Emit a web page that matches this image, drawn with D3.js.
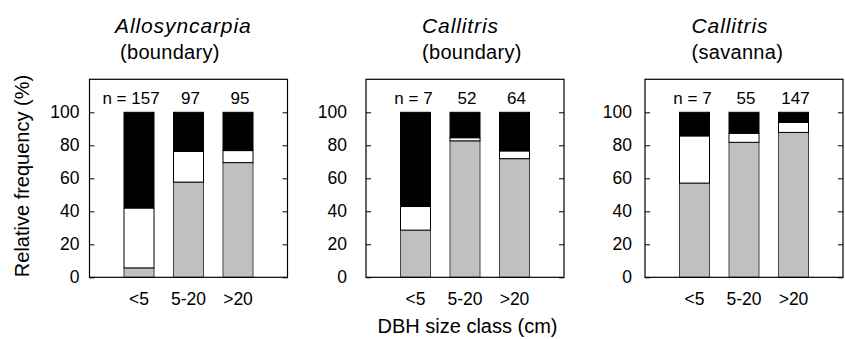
<!DOCTYPE html>
<html>
<head>
    <script src="https://d3js.org/d3.v7.min.js"></script>
    <title>DBH size class frequency</title>
    <style>
        body { margin: 0; background: #fff; }
        text { font-family: "Liberation Sans", Arial, Helvetica, sans-serif; fill: #000; }
    </style>
</head>
<body>
    <svg id="plot" height="339" width="845"></svg>
    <script>
        // data
        const categories = ["<5", "5-20", ">20"];
        const species = ["Allosyncarpia", "Callitris", "Callitris"];
        const sites = ["(boundary)", "(boundary)", "(savanna)"];
        const nCounts = [[157, 97, 95], [7, 52, 64], [7, 55, 147]];
        // percent per segment, bottom to top
        const grayPct  = [[5.7, 57.7, 69.5], [28.6, 82.7, 71.9], [57.1, 81.8, 87.8]];
        const whitePct = [[36.3, 18.6, 7.3], [14.3, 1.9, 4.7], [28.6, 5.5, 6.1]];
        const blackPct = [[58.0, 23.7, 23.2], [57.1, 15.4, 23.4], [14.3, 12.7, 6.1]];
        const yTicks = [0, 20, 40, 60, 80, 100];

        const svg = d3.select('svg#plot');
        const panelLeft = [89.5, 366, 645];
        const panelTop = 79.3;
        const panelW = 198;
        const panelH = 198;
        const labelGap = [10, 19, 13];
        const titleOffset = [[25.5, 30.5], [56, 56], [46.5, 46.5]];

        const x = d3.scalePoint().domain(categories).range([0, panelW]).padding(1);
        const y = d3.scaleLinear().domain([0, 120]).range([panelH, 0]);
        const barW = 30;
        const fills = {gray: "#c0c0c0", white: "#ffffff", black: "#000000"};

        panelLeft.forEach((px, p) => {
            const g = svg.append('g').attr('transform', `translate(${px},${panelTop})`);

            // title
            g.append('text')
                .attr('x', titleOffset[p][0]).attr('y', 32.5 - panelTop)
                .style('font-size', '21px').style('font-style', 'italic')
                .style('letter-spacing', '0.9px')
                .text(species[p]);
            g.append('text')
                .attr('x', titleOffset[p][1]).attr('y', 59 - panelTop)
                .style('font-size', '20px')
                .style('letter-spacing', '0.3px')
                .text(sites[p]);

            // stacked bars
            const rows = categories.map((c, i) => ({cat: c, gray: grayPct[p][i], white: whitePct[p][i], black: blackPct[p][i]}));
            const series = d3.stack().keys(["gray", "white", "black"])(rows);
            series.forEach(s => {
                g.selectAll(null).data(s).join('rect')
                    .attr('x', d => x(d.data.cat) - barW / 2)
                    .attr('width', barW)
                    .attr('y', d => y(d[1]))
                    .attr('height', d => y(d[0]) - y(d[1]))
                    .style('fill', fills[s.key])
                    .style('stroke', s.key === "gray" ? "#444" : "#000")
                    .style('stroke-width', 1);
            });

            // n labels
            g.selectAll(null).data(categories).join('text')
                .attr('x', (d, i) => x(d) + (i === 0 ? (p === 0 ? -8 : -2) : 2))
                .attr('y', 104 - panelTop)
                .attr('text-anchor', 'middle')
                .style('font-size', '17px')
                .text((d, i) => i === 0 ? `n = ${nCounts[p][i]}` : nCounts[p][i]);

            // axes (inward ticks both sides)
            const left = g.append('g')
                .call(d3.axisLeft(y).tickValues(yTicks).tickSize(-5).tickPadding(labelGap[p]));
            left.select('.domain').remove();
            left.selectAll('text').style('font-size', '17.5px').style('font-family', null);
            left.selectAll('line').style('stroke', '#000');

            const right = g.append('g').attr('transform', `translate(${panelW},0)`)
                .call(d3.axisRight(y).tickValues(yTicks).tickSize(-5).tickFormat(''));
            right.select('.domain').remove();
            right.selectAll('line').style('stroke', '#000');

            // category labels
            g.selectAll(null).data(categories).join('text')
                .attr('x', d => x(d))
                .attr('y', 305 - panelTop)
                .attr('text-anchor', 'middle')
                .style('font-size', '17.5px')
                .text(d => d);

            // frame
            g.append('rect')
                .attr('width', panelW).attr('height', panelH)
                .style('fill', 'none').style('stroke', '#000').style('stroke-width', 1.2);
        });

        // axis titles
        svg.append('text')
            .attr('transform', 'translate(29,176) rotate(-90)')
            .attr('text-anchor', 'middle')
            .style('font-size', '20px')
            .text('Relative frequency (%)');

        svg.append('text')
            .attr('x', 467.5).attr('y', 333)
            .attr('text-anchor', 'middle')
            .style('font-size', '20px')
            .text('DBH size class (cm)');
    </script>
</body>
</html>
